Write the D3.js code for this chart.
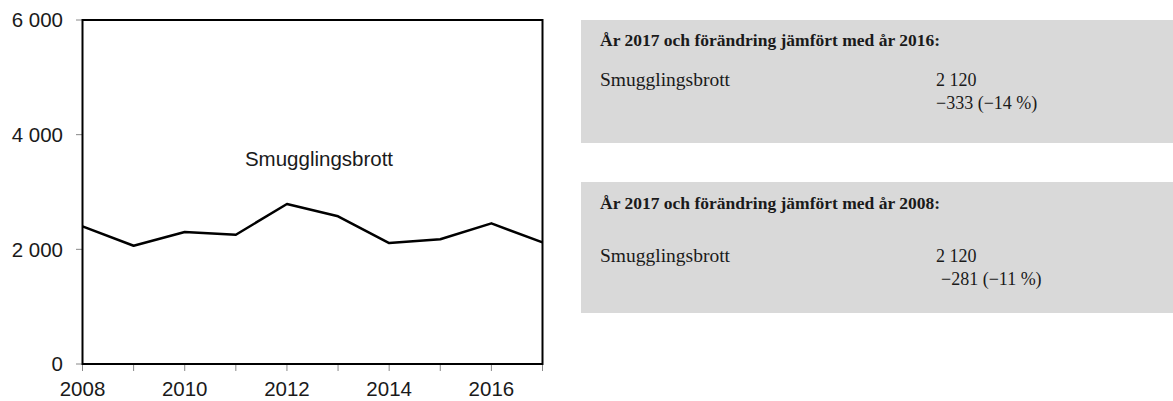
<!DOCTYPE html>
<html lang="sv">
<head>
<meta charset="UTF-8">
<title>Smugglingsbrott</title>
<script src="https://d3js.org/d3.v7.min.js"></script>
<style>
  body { margin: 0; background: #fff; }
  svg text { fill: #1a1a1a; }
  .axis-label { font-family: "Liberation Sans", Arial, sans-serif; font-size: 20.5px; }
  .box-text { font-family: "Liberation Serif", "Times New Roman", serif; font-size: 19.5px; }
</style>
</head>
<body>
<svg id="chart" width="1173" height="401"></svg>
<script>
// data
const years = [2008, 2009, 2010, 2011, 2012, 2013, 2014, 2015, 2016, 2017];
const smuggling = [2401, 2063, 2302, 2255, 2790, 2576, 2110, 2175, 2453, 2120];
const yTicks = [0, 2000, 4000, 6000];
const xTickLabels = [2008, 2010, 2012, 2014, 2016];
const seriesName = "Smugglingsbrott";

const boxHeaders = ["År 2017 och förändring jämfört med år 2016:", "År 2017 och förändring jämfört med år 2008:"];
const boxValues = ["2 120", "2 120"];
const boxChanges = ["−333 (−14 %)", "−281 (−11 %)"];

const svg = d3.select("#chart");

const x = d3.scaleLinear().domain([2008, 2017]).range([82.5, 542.5]);
const y = d3.scaleLinear().domain([0, 6000]).range([364, 20]);
const fmt = d => d3.format(",")(d).replace(/,/g, " ");

// y axis ticks + labels
svg.selectAll(".ytick").data(yTicks).enter().append("line")
    .attr("x1", 76).attr("x2", x(2008))
    .attr("y1", d => y(d)).attr("y2", d => y(d))
    .attr("stroke", "#888").attr("stroke-width", 1);
svg.selectAll(".ylab").data(yTicks).enter().append("text")
    .attr("class", "axis-label")
    .attr("x", 63).attr("y", d => y(d))
    .attr("dy", "0.35em")
    .attr("text-anchor", "end")
    .text(fmt);

// x axis ticks + labels
svg.selectAll(".xtick").data(years).enter().append("line")
    .attr("x1", d => x(d)).attr("x2", d => x(d))
    .attr("y1", y(0)).attr("y2", y(0) + 7)
    .attr("stroke", "#888").attr("stroke-width", 1);
svg.selectAll(".xlab").data(xTickLabels).enter().append("text")
    .attr("class", "axis-label")
    .attr("x", d => x(d)).attr("y", 396)
    .attr("text-anchor", "middle")
    .text(d => d);

// frame
svg.append("rect")
    .attr("x", x(2008)).attr("y", y(6000))
    .attr("width", x(2017) - x(2008)).attr("height", y(0) - y(6000))
    .attr("fill", "none").attr("stroke", "#000").attr("stroke-width", 2);

// line
const line = d3.line()
    .x((d, i) => x(years[i]))
    .y(d => y(d));
svg.append("path")
    .datum(smuggling)
    .attr("d", line)
    .attr("fill", "none")
    .attr("stroke", "#000")
    .attr("stroke-width", 2.5)
    .attr("stroke-linejoin", "round");

svg.append("text")
    .attr("class", "axis-label")
    .attr("x", 319).attr("y", 166)
    .attr("text-anchor", "middle")
    .text(seriesName);

// side boxes
const boxes = [
    { top: 20, h: 123, head: 26, row1: 66, row2: 89, shift: 0 },
    { top: 182, h: 131, head: 27, row1: 80, row2: 103, shift: 5 }
];
boxes.forEach((b, i) => {
    const g = svg.append("g").attr("transform", `translate(581, ${b.top})`);
    g.append("rect")
        .attr("width", 592).attr("height", b.h)
        .attr("fill", "#d9d9d9");
    g.append("text").attr("class", "box-text")
        .attr("x", 19).attr("y", b.head)
        .style("font-weight", "bold")
        .style("font-size", "17.5px")
        .text(boxHeaders[i]);
    g.append("text").attr("class", "box-text")
        .attr("x", 19).attr("y", b.row1)
        .text(seriesName);
    g.append("text").attr("class", "box-text")
        .attr("x", 355).attr("y", b.row1)
        .style("font-size", "18px")
        .text(boxValues[i]);
    g.append("text").attr("class", "box-text")
        .attr("x", 355 + b.shift).attr("y", b.row2)
        .style("font-size", "18px")
        .text(boxChanges[i]);
});
</script>
</body>
</html>
